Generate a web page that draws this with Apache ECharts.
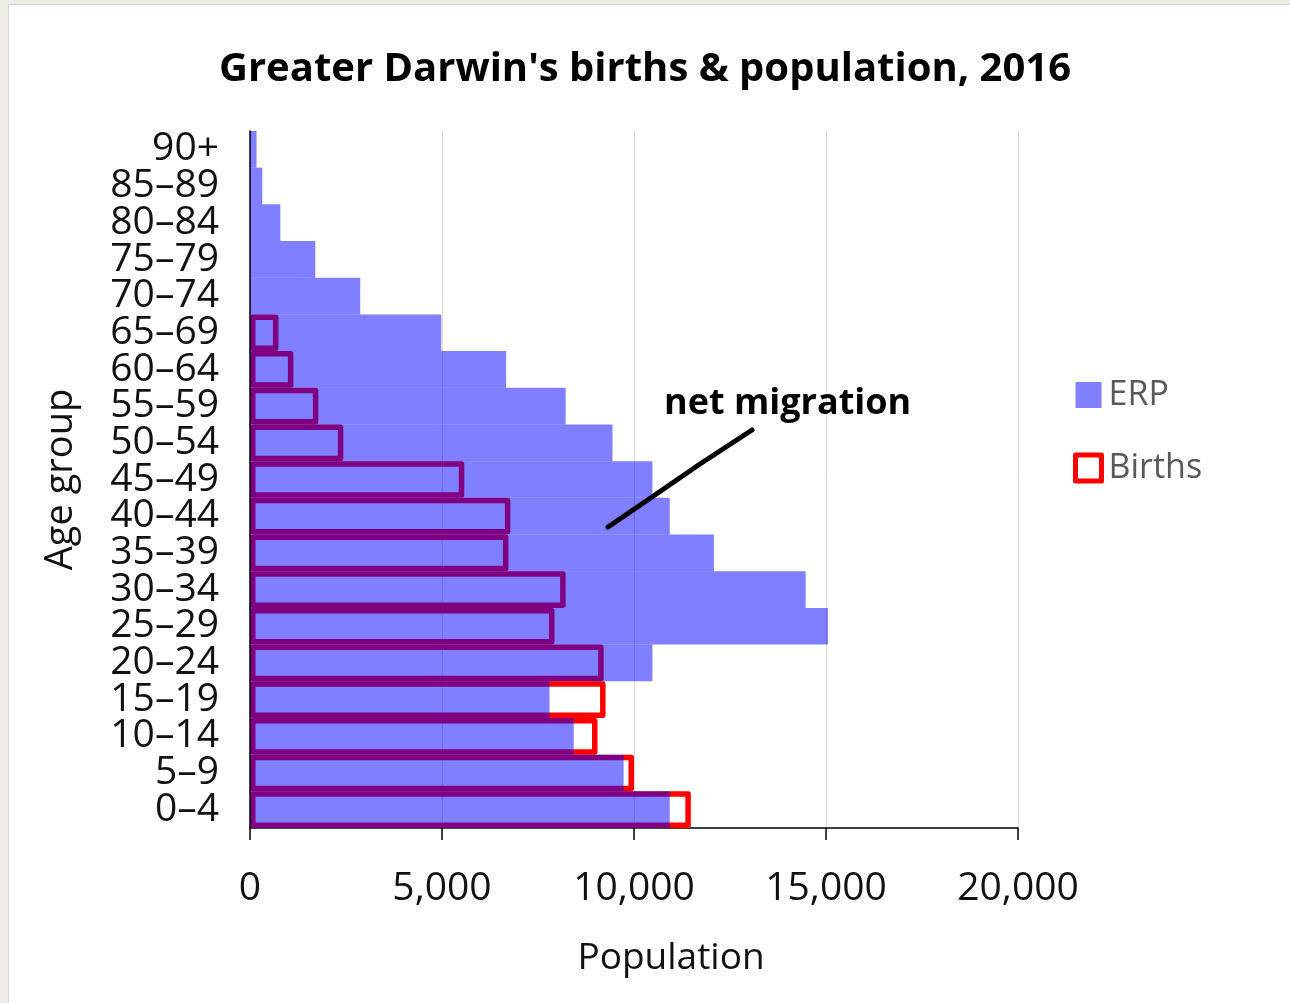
<!DOCTYPE html>
<html>
<head>
<meta charset="utf-8">
<script src="https://cdn.jsdelivr.net/npm/echarts@6/dist/echarts.min.js"></script>
<style>
  html, body { margin: 0; padding: 0; }
  body { width: 1290px; height: 1003px; background: #eeebe4; position: relative; overflow: hidden; }
  #panel { position: absolute; left: 8px; top: 4px; width: 1282px; height: 999px; background: #fff;
           border-top: 1px solid #d6d6d6; border-left: 1px solid #d6d6d6; box-sizing: border-box; }
  #chart { position: absolute; left: 0; top: 0; width: 1290px; height: 1003px; }
</style>
</head>
<body>
<div id="panel"></div>
<div id="chart"></div>
<script>
(function() {
    var dom = document.getElementById( "chart" );
    var myChart = echarts.init( dom );

    // age groups, bottom to top
    var ageGroups = ['0–4', '5–9', '10–14', '15–19', '20–24', '25–29', '30–34', '35–39', '40–44',
        '45–49', '50–54', '55–59', '60–64', '65–69', '70–74', '75–79', '80–84', '85–89', '90+'];

    // estimated resident population, 2016
    var erpValues = [10930, 9730, 8430, 7800, 10480, 15050, 14470, 12080, 10930,
        10480, 9440, 8220, 6670, 4980, 2870, 1700, 790, 320, 170];

    // births in the matching years (none before 1947)
    var birthValues = [11480, 10000, 9050, 9260, 9210, 7930, 8220, 6730, 6780,
        5580, 2430, 1780, 1130, 740, null, null, null, null, null];

    var xTicks = [0, 5000, 10000, 15000, 20000];

    var font = "'Open Sans', sans-serif";

    var option = {
        animation: false,
        title: {
            text: "Greater Darwin's births & population, 2016",
            left: 'center',
            top: 45,
            textStyle: {
                fontFamily: font,
                fontSize: 40,
                fontWeight: 'bold',
                color: '#000'
            }
        },
        legend: {
            orient: 'vertical',
            left: 1073,
            top: 377,
            padding: 0,
            itemWidth: 26,
            itemHeight: 26,
            itemGap: 37,
            textStyle: {
                fontFamily: font,
                fontSize: 34,
                color: '#595959',
                lineHeight: 36,
                padding: [0, 0, 0, 2]
            },
            data: [
                { name: 'ERP', icon: 'rect', itemStyle: { color: '#8080ff', borderWidth: 0 } },
                { name: 'Births', icon: 'rect', itemStyle: { color: '#fff', borderColor: '#ff0000', borderWidth: 5 } }
            ]
        },
        grid: {
            left: 250,
            right: 272,
            top: 131,
            bottom: 175
        },
        xAxis: {
            type: 'value',
            min: xTicks[0],
            max: xTicks[xTicks.length - 1],
            interval: 5000,
            name: 'Population',
            nameLocation: 'middle',
            nameGap: 112,
            nameTextStyle: {
                fontFamily: font,
                fontSize: 37,
                color: '#111',
                padding: [0, 0, 0, 74]
            },
            axisLine: { show: true, lineStyle: { color: '#000', width: 1.5 } },
            axisTick: { show: true, length: 12, lineStyle: { color: '#000', width: 1.5 } },
            splitLine: { show: true, lineStyle: { color: '#d9d9d9', width: 1 } },
            axisLabel: {
                fontFamily: font,
                fontSize: 39,
                color: '#111',
                margin: 41,
                formatter: function( v ) { return v.toLocaleString( 'en-US' ); }
            }
        },
        yAxis: {
            type: 'category',
            data: ageGroups,
            z: 5,
            name: 'Age group',
            nameLocation: 'middle',
            nameGap: 170,
            nameTextStyle: {
                fontFamily: font,
                fontSize: 38,
                color: '#111'
            },
            axisLine: { show: true, lineStyle: { color: '#000', width: 1.5 } },
            axisTick: { show: false },
            splitLine: { show: false },
            axisLabel: {
                fontFamily: font,
                fontSize: 39,
                color: '#111',
                margin: 31,
                interval: 0
            }
        },
        series: [
            {
                name: 'Births',
                type: 'bar',
                barWidth: '100%',
                barGap: '-100%',
                data: birthValues,
                itemStyle: {
                    color: 'rgba(0,0,0,0)',
                    borderColor: '#ff0000',
                    borderWidth: 5.5,
                    borderJoin: 'round'
                },
                emphasis: { disabled: true }
            },
            {
                name: 'ERP',
                type: 'bar',
                barWidth: '100%',
                barGap: '-100%',
                data: erpValues,
                itemStyle: {
                    color: 'rgba(0,0,255,0.5)'
                },
                emphasis: { disabled: true }
            }
        ],
        graphic: [
            {
                type: 'text',
                left: 664,
                top: 386,
                z: 100,
                style: {
                    text: 'net migration',
                    font: 'bold 36px ' + font,
                    fill: '#000'
                }
            },
            {
                type: 'polyline',
                z: 100,
                shape: { points: [[608, 527], [652, 497], [700, 464], [752, 430]] },
                style: { stroke: '#000', lineWidth: 5, lineCap: 'round', lineJoin: 'round' }
            }
        ]
    };

    myChart.setOption( option );
})();
</script>
</body>
</html>
